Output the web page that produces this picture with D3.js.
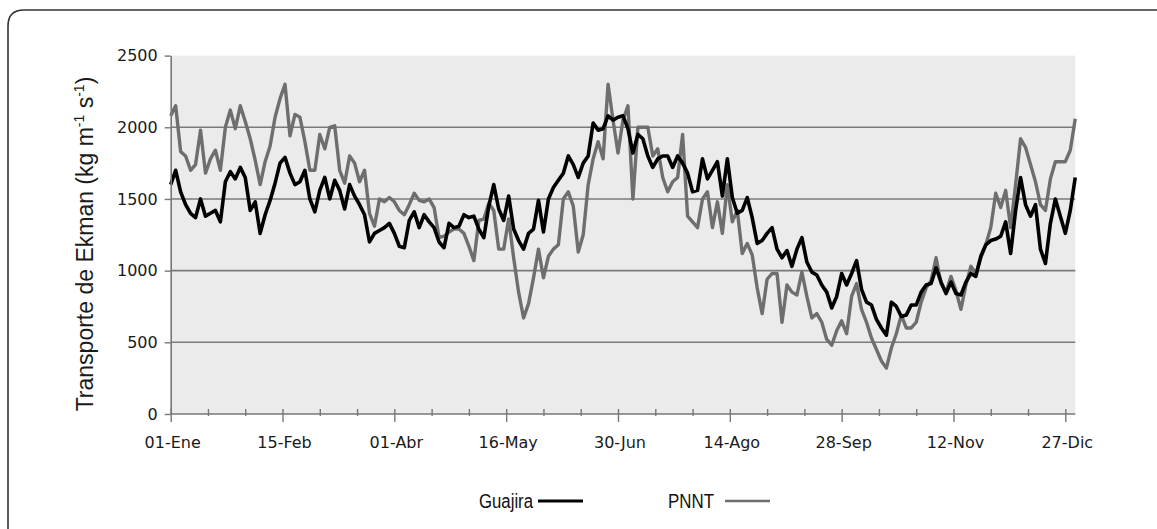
<!DOCTYPE html>
<html>
<head>
<meta charset="utf-8">
<script src="https://cdn.jsdelivr.net/npm/d3@7"></script>
<style>
  html, body { margin: 0; padding: 0; background: #fff; }
  svg { display: block; }
</style>
</head>
<body>
<svg id="chart" width="1157" height="529"></svg>
<script>
// Daily Ekman transport, sampled every second day of the year (day 0 = 01-Ene)
const sampleStep = 2;

const guajira = [
  1600, 1700, 1550, 1460, 1400, 1370, 1500, 1380, 1400, 1420,
  1340, 1620, 1690, 1640, 1720, 1650, 1420, 1480, 1260, 1390,
  1490, 1610, 1750, 1790, 1680, 1600, 1620, 1700, 1500, 1410,
  1560, 1650, 1500, 1630, 1560, 1430, 1600, 1520, 1460, 1390,
  1200, 1260, 1280, 1300, 1330, 1260, 1170, 1160, 1350, 1410,
  1300, 1390, 1340, 1300, 1200, 1160, 1330, 1300, 1310, 1390,
  1370, 1380, 1290, 1230, 1450, 1600, 1430, 1350, 1520, 1290,
  1210, 1150, 1260, 1290, 1490, 1270, 1500, 1580, 1630, 1680,
  1800, 1740, 1650, 1750, 1800, 2030, 1980, 1990, 2080, 2050,
  2070, 2080, 1990, 1820, 1950, 1920, 1800, 1720, 1780, 1800,
  1800, 1720, 1800, 1750, 1680, 1550, 1560, 1780, 1640, 1700,
  1760, 1520, 1780, 1510, 1400, 1420, 1510, 1370, 1190, 1210,
  1260, 1300, 1150, 1090, 1140, 1030, 1150, 1230, 1060, 990,
  970, 900, 850, 740, 820, 980, 900, 980, 1070, 870,
  780, 760, 660, 600, 550, 780, 750, 680, 690, 760,
  760, 850, 900, 910, 1020, 920, 840, 920, 840, 830,
  920, 980, 960, 1100, 1180, 1210, 1220, 1240, 1340, 1120,
  1420, 1650, 1460, 1380, 1460, 1150, 1050, 1330, 1500, 1380,
  1260, 1420, 1650
];

const pnnt = [
  2080, 2150, 1830, 1800, 1700, 1740, 1980, 1680, 1780, 1840,
  1700, 2000, 2120, 1990, 2150, 2040, 1920, 1770, 1600, 1760,
  1870, 2070, 2200, 2300, 1940, 2090, 2070, 1900, 1700, 1700,
  1950, 1850, 2000, 2010, 1700, 1610, 1800, 1750, 1620, 1700,
  1400, 1310, 1500, 1480, 1510, 1480, 1420, 1390, 1460, 1540,
  1490, 1480, 1500, 1440, 1230, 1240, 1270, 1290, 1290, 1260,
  1170, 1070, 1350, 1360, 1470, 1420, 1150, 1150, 1360, 1090,
  850, 670, 770, 950, 1150, 950, 1100, 1150, 1180, 1500,
  1550, 1450, 1130, 1250, 1600, 1780, 1900, 1780, 2300, 2050,
  1820, 2050, 2150, 1500, 2000, 2000, 2000, 1800, 1850, 1650,
  1550, 1620, 1650, 1950, 1380, 1340, 1300, 1500, 1550, 1300,
  1480, 1260, 1600, 1340, 1420, 1120, 1190, 1110, 880, 700,
  940, 980, 980, 640, 900, 850, 830, 990, 820, 670,
  700, 640, 520, 480, 580, 650, 560, 820, 910, 730,
  640, 530, 450, 370, 320, 460, 560, 690, 600, 600,
  640, 780, 880, 930, 1090, 910, 850, 960, 860, 730,
  900, 1030, 980, 1090, 1180, 1300, 1540, 1440, 1560, 1300,
  1600, 1920, 1860, 1740, 1620, 1460, 1420, 1640, 1760, 1760,
  1760, 1840, 2060
];

// Axis ticks: a mark every 15 days, a label every 45 days
const minorTickDays = [0, 15, 30, 45, 60, 75, 90, 105, 120, 135, 150, 165, 180,
  195, 210, 225, 240, 255, 270, 285, 300, 315, 330, 345, 360];
const labelDays = [0, 45, 90, 135, 180, 225, 270, 315, 360];
const dateLabels = ["01-Ene", "15-Feb", "01-Abr", "16-May", "30-Jun",
  "14-Ago", "28-Sep", "12-Nov", "27-Dic"];
const yTicks = [0, 500, 1000, 1500, 2000, 2500];
const gridValues = [500, 1000, 1500, 2000];

const seriesNames = ["Guajira", "PNNT"];
const seriesColors = ["#000000", "#6e6e6e"];

const svg = d3.select("#chart");

// Frame around the figure
svg.append("path")
  .attr("d", "M8,540 L8,26 Q8,10 24,10 L1160,10")
  .attr("fill", "none")
  .attr("stroke", "#333")
  .attr("stroke-width", 1.6);

const x = d3.scaleLinear().domain([0, 360]).range([170.7, 1065.3]);
const y = d3.scaleLinear().domain([0, 2500]).range([414, 55.6]);

// Plot background
svg.append("rect")
  .attr("x", x(0))
  .attr("y", y(2500))
  .attr("width", x(364) - x(0))
  .attr("height", y(0) - y(2500))
  .attr("fill", "#ebebeb");

// Horizontal grid
svg.append("g").selectAll("line")
  .data(gridValues)
  .join("line")
  .attr("x1", x(0))
  .attr("x2", x(364))
  .attr("y1", d => y(d))
  .attr("y2", d => y(d))
  .attr("stroke", "#7a7a7a")
  .attr("stroke-width", 1.6);

// Series lines
const line = d3.line()
  .x((d, i) => x(i * sampleStep))
  .y(d => y(d));

svg.append("path")
  .datum(pnnt)
  .attr("d", line)
  .attr("fill", "none")
  .attr("stroke", seriesColors[1])
  .attr("stroke-width", 3.4)
  .attr("stroke-linejoin", "round");

svg.append("path")
  .datum(guajira)
  .attr("d", line)
  .attr("fill", "none")
  .attr("stroke", seriesColors[0])
  .attr("stroke-width", 3.6)
  .attr("stroke-linejoin", "round");

// Y axis
const yAxis = svg.append("g")
  .attr("transform", `translate(${x(0)},0)`)
  .call(d3.axisLeft(y).tickValues(yTicks).tickSize(6).tickPadding(7)
    .tickSizeOuter(0).tickFormat(d3.format("d")));
yAxis.select(".domain").attr("stroke", "#777").attr("stroke-width", 1.6);
yAxis.selectAll(".tick line").attr("stroke", "#777").attr("stroke-width", 1.4);
yAxis.selectAll(".tick text")
  .attr("font-family", "DejaVu Sans, Verdana, sans-serif")
  .attr("font-size", 16)
  .attr("fill", "#1a1a1a");

// X axis
const xAxis = svg.append("g")
  .attr("transform", `translate(0,${y(0)})`)
  .call(d3.axisBottom(x).tickValues(minorTickDays).tickSizeOuter(0).tickFormat(""));
xAxis.select(".domain")
  .attr("d", `M${x(0)},0H${x(364)}`)
  .attr("stroke", "#777")
  .attr("stroke-width", 1.6);
xAxis.selectAll(".tick line")
  .attr("y1", -5)
  .attr("y2", d => labelDays.includes(d) ? 8 : 2)
  .attr("stroke", "#777")
  .attr("stroke-width", 1.4);

svg.append("g").selectAll("text")
  .data(labelDays)
  .join("text")
  .attr("x", d => x(d) + 2)
  .attr("y", 448)
  .attr("text-anchor", "middle")
  .attr("font-family", "DejaVu Sans, Verdana, sans-serif")
  .attr("font-size", 16)
  .attr("fill", "#1a1a1a")
  .text((d, i) => dateLabels[i]);

// Y axis title with superscripts
const yTitle = svg.append("text")
  .attr("transform", "translate(93,244) rotate(-90)")
  .attr("text-anchor", "middle")
  .attr("font-family", "Liberation Sans, Arial, sans-serif")
  .attr("font-size", 23)
  .attr("fill", "#1a1a1a");
yTitle.append("tspan").text("Transporte de Ekman (kg m");
yTitle.append("tspan").attr("font-size", 14).attr("dy", -9).text("-1");
yTitle.append("tspan").attr("dy", 9).text(" s");
yTitle.append("tspan").attr("font-size", 14).attr("dy", -9).text("-1");
yTitle.append("tspan").attr("dy", 9).text(")");

// Legend
const legendItems = [
  { name: seriesNames[0], color: seriesColors[0], tx: 479, tw: 54, lx1: 538, lx2: 583, w: 3 },
  { name: seriesNames[1], color: seriesColors[1], tx: 668, tw: 46, lx1: 725, lx2: 770, w: 2.6 }
];
const legend = svg.append("g");
legend.selectAll("text")
  .data(legendItems)
  .join("text")
  .attr("x", d => d.tx)
  .attr("y", 508)
  .attr("font-family", "Liberation Sans, Arial, sans-serif")
  .attr("font-size", 20)
  .attr("textLength", d => d.tw)
  .attr("lengthAdjust", "spacingAndGlyphs")
  .attr("fill", "#111")
  .text(d => d.name);
legend.selectAll("line")
  .data(legendItems)
  .join("line")
  .attr("x1", d => d.lx1)
  .attr("x2", d => d.lx2)
  .attr("y1", 501)
  .attr("y2", 501)
  .attr("stroke", d => d.color)
  .attr("stroke-width", d => d.w);
</script>
</body>
</html>
